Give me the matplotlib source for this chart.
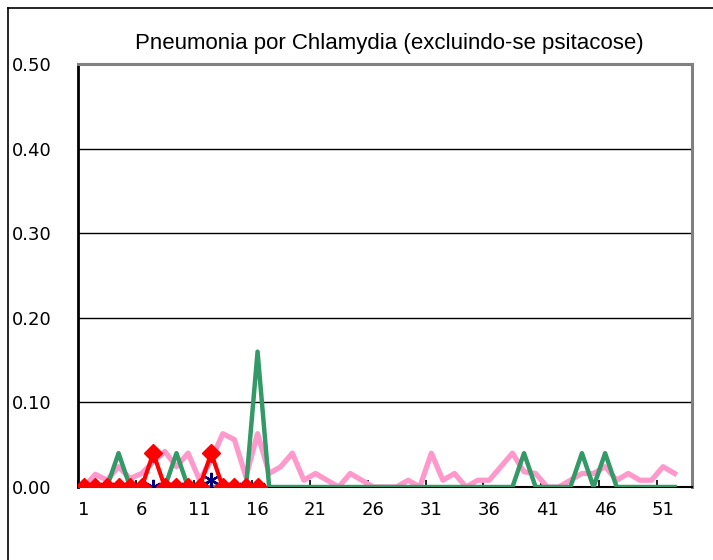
import matplotlib
matplotlib.use("Agg")
import matplotlib.pyplot as plt
from matplotlib.lines import Line2D

weeks_all = list(range(1, 53))
pink = [0.000, 0.015, 0.008, 0.024, 0.010, 0.016, 0.030, 0.042, 0.024, 0.040,
        0.008, 0.032, 0.063, 0.056, 0.012, 0.063, 0.016, 0.024, 0.040, 0.008,
        0.016, 0.008, 0.000, 0.016, 0.008, 0.000, 0.000, 0.000, 0.008, 0.000,
        0.040, 0.008, 0.016, 0.000, 0.008, 0.008, 0.024, 0.040, 0.018, 0.016,
        0.000, 0.000, 0.008, 0.016, 0.016, 0.024, 0.008, 0.016, 0.008, 0.008,
        0.024, 0.016]
green = [0.0, 0.0, 0.0, 0.04, 0.0, 0.0, 0.0, 0.0, 0.04, 0.0,
         0.0, 0.0, 0.0, 0.0, 0.0, 0.16, 0.0, 0.0, 0.0, 0.0,
         0.0, 0.0, 0.0, 0.0, 0.0, 0.0, 0.0, 0.0, 0.0, 0.0,
         0.0, 0.0, 0.0, 0.0, 0.0, 0.0, 0.0, 0.0, 0.04, 0.0,
         0.0, 0.0, 0.0, 0.04, 0.0, 0.04, 0.0, 0.0, 0.0, 0.0,
         0.0, 0.0]
weeks_cur = list(range(1, 17))
navy = [0, 0, 0, 0, 0, 0, 0, 0, 0, 0, 0, 0.008, 0, 0, 0, 0]
red = [0, 0, 0, 0, 0, 0, 0.04, 0, 0, 0, 0, 0.04, 0, 0, 0, 0]

yticks = [0.0, 0.1, 0.2, 0.3, 0.4, 0.5]
xlabels = [1, 6, 11, 16, 21, 26, 31, 36, 41, 46, 51]
title = "Pneumonia por Chlamydia (excluindo-se psitacose)"

W, H = 713, 560
fig = plt.figure(figsize=(W / 100, H / 100), dpi=100)
ax = fig.add_axes([78 / W, 1 - 487 / H, (692 - 78) / W, (487 - 64) / H])

ax.plot(weeks_all, pink, color="#FF99CC", lw=3.8, zorder=2)
ax.plot(weeks_all, green, color="#339966", lw=3.2, zorder=3)
ax.plot(weeks_cur, navy, color="#000080", lw=2, marker=(6, 2, 0), markersize=11,
        markeredgewidth=1.6, zorder=4)
ax.plot(weeks_cur, red, color="#FF0000", lw=3, marker="D", markersize=9.5, zorder=5)

ax.set_xlim(0.5, 53.5)
ax.set_ylim(0, 0.5)
ax.set_yticks(yticks)
ax.set_yticklabels([f"{v:.2f}" for v in yticks])
ax.set_xticks(xlabels)
ax.set_xticklabels([str(v) for v in xlabels])
ax.set_xticks([v - 0.5 for v in xlabels], minor=True)
ax.tick_params(axis="x", which="major", length=0, pad=10, labelsize=13)
ax.tick_params(axis="x", which="minor", length=5, direction="in", width=1.2)
ax.tick_params(axis="y", length=0, pad=19, labelsize=13)
for v in yticks[1:-1]:
    ax.axhline(v, color="black", lw=1, zorder=1)

ax.spines["left"].set_color("black")
ax.spines["left"].set_linewidth(2)
ax.spines["bottom"].set_color("black")
ax.spines["bottom"].set_linewidth(1.5)
for s in ("top", "right"):
    ax.spines[s].set_color("#808080")
    ax.spines[s].set_linewidth(2.2)

fig.text(389 / W, 1 - 43 / H, title, ha="center", va="center", fontsize=16,
         family="Liberation Sans")

fig.add_artist(Line2D([7.5 / W, 7.5 / W], [0, 1 - 8 / H], color="black", lw=1.2,
                      transform=fig.transFigure))
fig.add_artist(Line2D([7.5 / W, 1], [1 - 8 / H, 1 - 8 / H], color="black", lw=1.2,
                      transform=fig.transFigure))

fig.savefig("out.png", dpi=100)
